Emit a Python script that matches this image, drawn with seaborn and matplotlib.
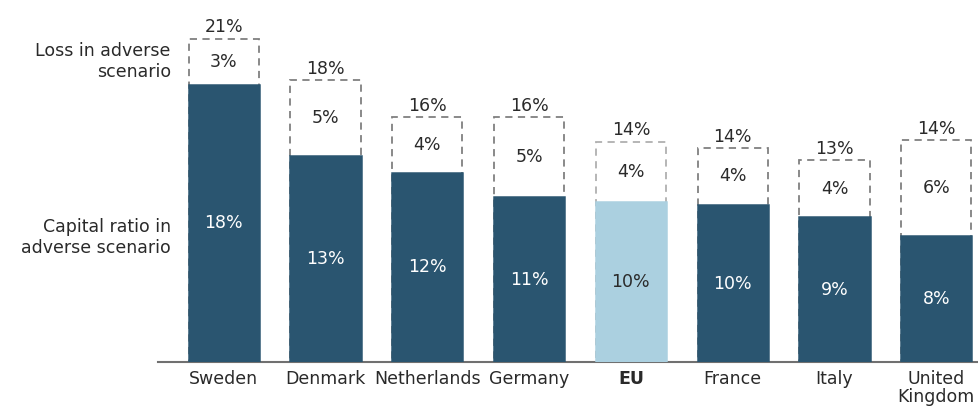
import matplotlib
matplotlib.use("Agg")
import matplotlib.pyplot as plt
import numpy as np
import pandas as pd
import seaborn as sns

countries = ["Sweden", "Denmark", "Netherlands", "Germany", "EU", "France", "Italy", "United\nKingdom"]
capital_ratio = [18.0, 13.4, 12.3, 10.7, 10.4, 10.2, 9.4, 8.2]
loss = [3.0, 4.9, 3.6, 5.2, 3.9, 3.7, 3.7, 6.2]

DARK = "#2A5570"
LIGHT = "#ABD0E0"
FS = 12.5


def setup_style():
    sns.set_theme(style="white")
    plt.rcParams["font.family"] = ["DejaVu Sans"]
    plt.rcParams["text.color"] = "#2a2a2a"


def main():
    setup_style()
    df = pd.DataFrame({"country": countries, "capital": capital_ratio, "loss": loss})
    df["total"] = df["capital"] + df["loss"]
    fills = [LIGHT if c == "EU" else DARK for c in countries]
    edges = ["#B0B0B0" if c == "EU" else "#808080" for c in countries]

    fig = plt.figure(figsize=(9.79, 4.11), dpi=100)
    ax = fig.add_axes([0.161, 0.119, 0.839, 0.881])

    # total box (dashed), capital bar drawn on top of it
    sns.barplot(data=df, x="country", y="total", color="white", width=0.69,
                linewidth=1.3, saturation=1, ax=ax)
    for patch, ec in zip(ax.patches, edges):
        patch.set_edgecolor(ec)
        patch.set_linestyle((0, (4, 3)))
    n = len(ax.patches)
    sns.barplot(data=df, x="country", y="capital", hue="country", palette=fills,
                legend=False, width=0.69, saturation=1, ax=ax)
    # hide the dashed outline under the solid part
    for patch in ax.patches[n:]:
        patch.set_zorder(3)
        patch.set_edgecolor(patch.get_facecolor())
        patch.set_linewidth(1.8)

    for i, row in df.iterrows():
        is_eu = row["country"] == "EU"
        ax.text(i, row["total"] + 0.15, f"{row['total']:.0f}%", ha="center", va="bottom",
                fontsize=FS)
        ax.text(i, row["capital"] + row["loss"] / 2, f"{row['loss']:.0f}%", ha="center",
                va="center", fontsize=FS)
        ax.text(i, row["capital"] / 2, f"{row['capital']:.0f}%", ha="center", va="center",
                fontsize=FS, color="#2a2a2a" if is_eu else "white", zorder=4)

    ax.text(-0.52, 19.5, "Loss in adverse\nscenario", ha="right", va="center",
            fontsize=FS, linespacing=1.2, clip_on=False)
    ax.text(-0.52, 8.1, "Capital ratio in\nadverse scenario", ha="right", va="center",
            fontsize=FS, linespacing=1.2, clip_on=False)

    ax.set_xlim(-0.65, 7.42)
    ax.set_ylim(0, 23.5)
    ax.set_xlabel("")
    ax.set_ylabel("")
    ax.set_yticks([])
    ax.tick_params(axis="x", length=0, pad=6, labelsize=FS, labelcolor="#2a2a2a")
    for lbl in ax.get_xticklabels():
        lbl.set_linespacing(1.0)
        if lbl.get_text() == "EU":
            lbl.set_fontweight("bold")
    sns.despine(ax=ax, left=True)
    ax.spines["bottom"].set_color("#707070")
    ax.spines["bottom"].set_linewidth(1.5)

    fig.savefig("out.png", dpi=100)
    plt.close(fig)


if __name__ == "__main__":
    main()
